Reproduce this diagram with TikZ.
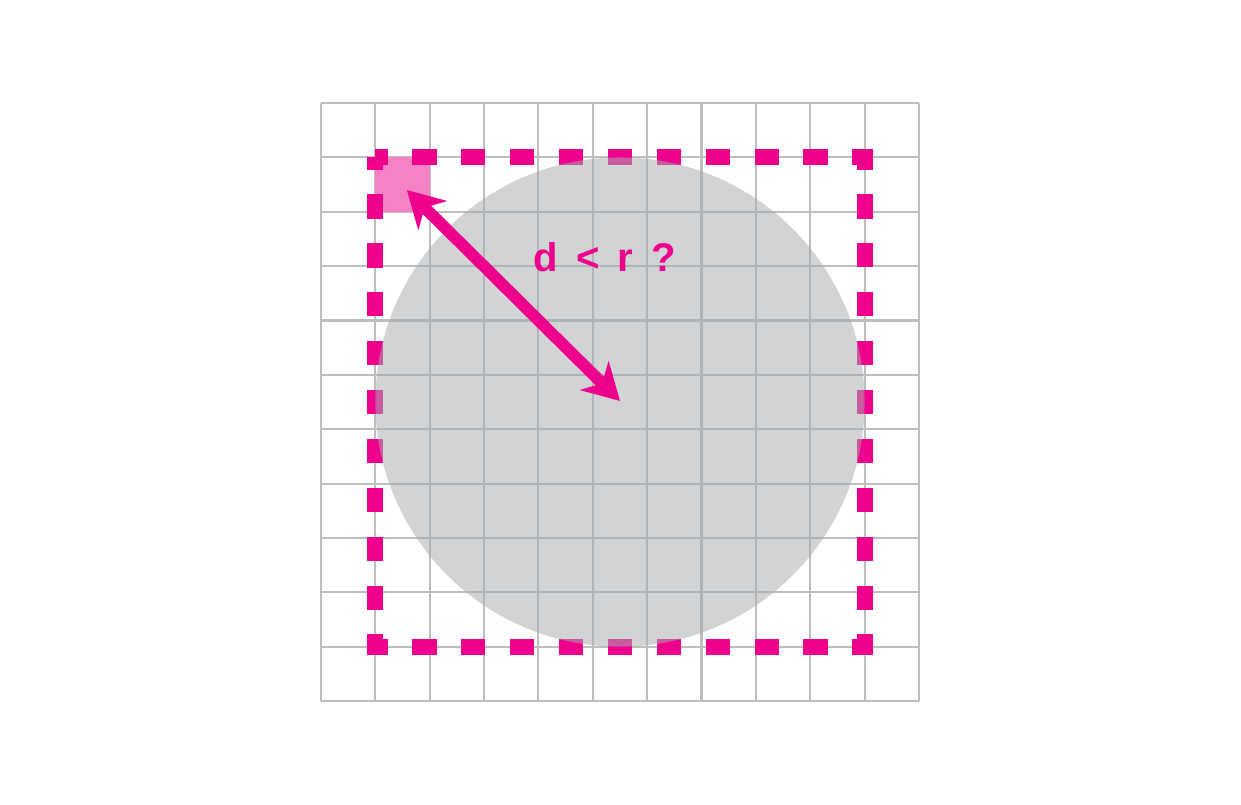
\documentclass[tikz,border=0pt]{standalone}
\usepackage{fontspec}
\setmainfont{Liberation Sans}
\usetikzlibrary{arrows.meta}
\definecolor{mag}{RGB}{236,0,140}
\definecolor{pinkcell}{RGB}{244,130,197}
\definecolor{gridgray}{RGB}{188,190,192}
\definecolor{circgray}{RGB}{168,172,174}
\tikzset{
  gridline/.style={draw=gridgray, line width=1.1pt},
  dashbox/.style={draw=mag, line width=8.4pt, dash pattern=on 0.45cm off 0.45cm, dash phase=0.225cm},
  circfill/.style={fill=circgray, fill opacity=0.53},
  bigarrow/.style={draw=mag, line width=6.2pt, {Stealth[length=0.66cm,width=0.74cm,inset=0.2cm]}-{Stealth[length=0.66cm,width=0.74cm,inset=0.2cm]}},
  label/.style={text=mag, font=\bfseries\fontsize{21}{25}\selectfont}
}
\begin{document}
\begin{tikzpicture}
\useasboundingbox (-5.905,-1.895) rectangle (16.924,12.896);
% grid
\draw[gridline] (0,0) grid (11,11);
% highlighted cell
\fill[pinkcell] (1,9) rectangle (2,10);
% dashed bounding square
\draw[dashbox] (1,10) -- (10,10) -- (10,1) -- (1,1) -- cycle;
% circle
\coordinate (c) at (5.5,5.5);
\fill[circfill] (c) circle (4.5);
% arrow
\coordinate (p) at (1.58,9.40);
\coordinate (q) at (5.50,5.52);
\draw[bigarrow] (p) -- (q);
% label
\node[label] (t) at (5.22,8.16) {d\hspace{3.6pt} <\hspace{3.6pt} r\hspace{3.6pt} ?};
\end{tikzpicture}
\end{document}
